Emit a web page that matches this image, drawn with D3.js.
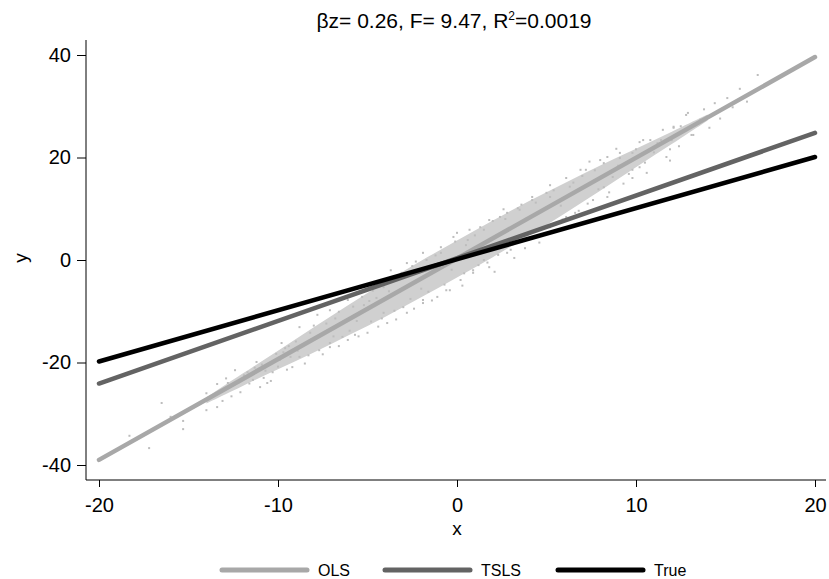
<!DOCTYPE html>
<html>
<head>
<meta charset="utf-8">
<script src="https://cdn.jsdelivr.net/npm/d3@7"></script>
<style>
  html, body { margin: 0; padding: 0; background: #fff; }
  svg { display: block; }
  text { font-family: "Liberation Sans", Arial, sans-serif; fill: #000; }
</style>
</head>
<body>
<svg id="chart" width="829" height="579"></svg>
<script>
// ---- data ----
const xTicks = [-20, -10, 0, 10, 20];
const yTicks = [-40, -20, 0, 20, 40];
const seriesNames = ["OLS", "TSLS", "True"];
const seriesColors = ["#a8a8a8", "#636363", "#000000"];
const lineX = [-20, 20];
const olsY = [-39.0, 39.6];
const tslsY = [-24.1, 24.8];
const trueY = [-19.8, 20.1];

// dense core of the scatter cloud (x, lower y, upper y)
const coreX  = [-14, -12, -10, -8, -6, -4, -2, 0, 2, 4, 6, 8, 10, 12, 14];
const coreLo = [-28.0, -24.6, -21.3, -18.1, -14.6, -11.1, -7.3, -3.4, 0.5, 4.7, 9.0, 13.5, 18.1, 22.6, 27.2];
const coreHi = [-26.8, -22.2, -17.7, -13.1, -8.6, -4.3, -0.1, 3.8, 7.7, 11.5, 15.0, 18.5, 21.7, 25.0, 28.4];

// individual scatter points
const pts = [
[-18.3,-34.3],[-17.2,-36.7],[-16.5,-27.9],[-16.0,-30.6],[-15.3,-31.4],[-15.3,-33.0],[-14.0,-26.0],[-14.0,-29.3],
[-13.4,-24.2],[-13.4,-28.7],[-12.4,-21.5],[-12.1,-25.8],[-11.7,-21.9],[-11.2,-19.9],[-10.8,-23.0],[-10.3,-21.9],
[-9.9,-19.5],[-9.6,-17.2],[-9.2,-20.9],[-10.6,-24.0],[-11.4,-23.4],[-9.8,-16.2],[-9.3,-18.9],[-8.2,-14.2],
[-7.7,-17.6],[-7.1,-16.2],[-6.4,-15.0],[-5.7,-14.6],[-12.9,-23.1],[-12.6,-26.6],[-11.9,-22.5],[-11.0,-24.8],
[-10.9,-20.4],[-10.1,-18.3],[-10.4,-23.6],[-9.5,-21.4],[-9.0,-15.9],[-8.8,-13.1],[-8.8,-18.9],[-8.5,-20.2],
[-8.0,-12.8],[-7.8,-10.7],[-7.5,-18.4],[-7.1,-9.8],[-7.1,-17.0],[-6.8,-11.4],[-6.6,-16.8],[-6.1,-7.8],
[-6.1,-15.6],[-5.8,-9.1],[-5.5,-14.9],[-5.3,-7.2],[-5.0,-14.2],[-4.7,-6.0],[-4.4,-13.0],[-4.1,-5.3],
[-4.1,-10.3],[-3.9,-12.3],[-3.7,-2.0],[-3.4,-11.6],[-3.2,-3.3],[-3.0,-9.2],[-2.8,-0.6],[-2.8,-10.3],
[-2.5,-1.2],[-2.4,-9.5],[-2.2,-2.0],[-1.9,1.4],[-1.9,-7.8],[-1.9,-8.4],[-1.7,0.0],[-1.4,-7.9],
[-1.1,-7.2],[-0.9,1.4],[-0.9,2.5],[-0.6,-5.9],[-0.4,-5.9],[-0.2,4.5],[0.0,5.3],[0.2,-3.9],
[0.3,-5.0],[0.6,3.9],[0.7,5.9],[0.9,-2.5],[0.9,-2.0],[1.3,6.4],[1.5,5.9],[1.5,0.0],
[1.8,7.8],[1.8,-1.4],[2.1,-2.3],[2.4,8.4],[2.6,9.9],[2.8,9.2],[2.8,1.4],[3.0,2.0],
[3.2,0.4],[3.4,10.1],[3.5,9.8],[3.8,2.3],[4.2,11.7],[4.2,12.3],[4.2,4.5],[4.6,3.4],
[5.0,13.1],[5.2,14.6],[5.2,6.4],[5.2,12.3],[5.6,5.8],[6.1,16.0],[6.1,8.4],[6.5,15.1],
[6.9,17.6],[6.8,9.6],[7.2,17.6],[7.6,11.7],[7.4,19.2],[8.0,19.5],[8.2,18.9],[8.2,14.2],
[8.4,20.1],[8.4,12.3],[8.7,16.2],[8.9,21.7],[9.1,20.9],[9.1,19.9],[9.3,14.9],[9.8,20.9],
[9.8,17.6],[9.8,16.0],[10.2,23.0],[10.2,18.1],[10.4,23.4],[10.6,17.0],[10.8,23.4],[11.2,22.8],
[11.5,25.4],[11.7,20.1],[11.9,19.4],[12.0,23.4],[12.1,25.8],[12.1,26.0],[12.4,22.2],[12.8,28.3],
[12.9,28.7],[13.1,24.4],[13.2,24.4],[13.5,26.7],[13.8,29.4],[14.1,25.8],[14.4,30.6],[15.1,31.6],
[15.8,33.4],[16.8,36.1],[14.7,27.6],[15.4,29.8],[16.2,30.9],[-8.9,-17.7],[-6.3,-12.2],[-3.6,-4.1],
[-2.0,-5.6],[-0.3,-1.9],[0.5,2.9],[2.2,3.1],[3.9,8.2],[5.8,10.6],[7.9,13.8],[-4.9,-8.0],
[-13.1,-27.5],[-12.8,-24.0],[-12.2,-23.9],[-11.6,-24.1],[-11.3,-21.0],[-10.7,-21.6],[-10.0,-20.8],[-9.7,-18.0],
[-9.4,-16.8],[-8.6,-16.5],[-8.3,-18.6],[-7.9,-15.4],[-7.3,-12.4],[-6.9,-14.9],[-6.6,-10.1],[-6.0,-13.8],
[-5.6,-11.9],[-5.2,-8.8],[-4.8,-12.0],[-4.5,-7.4],[-4.2,-11.4],[-3.8,-6.1],[-3.5,-9.9],[-3.1,-2.5],
[-2.6,-7.6],[-2.3,-0.3],[-1.6,-6.2],[-1.2,0.9],[-0.7,-4.8],[-0.1,3.6],[0.4,-2.6],[1.0,4.8],
[1.2,-1.0],[1.7,-0.5],[2.0,7.6],[2.3,1.0],[2.7,8.0],[3.1,3.0],[3.6,10.8],[4.0,3.9],
[4.4,11.2],[4.8,6.1],[5.4,13.6],[5.9,7.9],[6.3,14.3],[6.6,9.2],[7.0,16.4],[7.3,11.0],
[7.7,17.5],[8.5,13.2],[9.0,18.4],[9.6,16.8],[10.0,21.6],[10.5,19.0],[11.0,21.0],[11.4,23.4],
[11.9,21.6],[12.5,26.1],[13.0,25.9],[13.6,27.4]
];

// ---- layout ----
const svg = d3.select("#chart");
const x = d3.scaleLinear().domain([-20, 20]).range([99, 815]);
const y = d3.scaleLinear().domain([-40, 40]).range([465, 55]);
const axisLeftX = 86, axisBottomY = 480;
const fontFam = "Liberation Sans, Arial, sans-serif";

// scatter core
svg.append("path")
  .datum(coreX.map((v, i) => ({ x: v, lo: coreLo[i], hi: coreHi[i] })))
  .attr("fill", "#d0d0d0")
  .attr("d", d3.area().x(d => x(d.x)).y0(d => y(d.lo)).y1(d => y(d.hi)).curve(d3.curveBasis));

// scatter points
svg.append("g").selectAll("rect").data(pts).join("rect")
  .attr("x", d => x(d[0]) - 1)
  .attr("y", d => y(d[1]) - 1)
  .attr("width", 2).attr("height", 2)
  .attr("fill", "#bdbdbd");

// fit lines
const lineYs = [olsY, tslsY, trueY];
const line = d3.line().x(d => x(d[0])).y(d => y(d[1]));
lineYs.forEach((ys, i) => {
  svg.append("path")
    .datum(lineX.map((v, j) => [v, ys[j]]))
    .attr("fill", "none")
    .attr("stroke", seriesColors[i])
    .attr("stroke-width", 4.5)
    .attr("stroke-linecap", "round")
    .attr("d", line);
});

// axes
svg.append("line").attr("x1", axisLeftX).attr("x2", axisLeftX).attr("y1", 40).attr("y2", axisBottomY)
  .attr("stroke", "#000").attr("stroke-width", 1);
svg.append("line").attr("x1", axisLeftX).attr("x2", 826).attr("y1", axisBottomY).attr("y2", axisBottomY)
  .attr("stroke", "#000").attr("stroke-width", 1);

const gx = svg.append("g").attr("transform", `translate(0,${axisBottomY})`)
  .call(d3.axisBottom(x).tickValues(xTicks).tickSize(7).tickPadding(11).tickFormat(d => String(d)));
gx.select(".domain").remove();
gx.selectAll("text").style("font-size", "20px").style("font-family", fontFam);

const gy = svg.append("g").attr("transform", `translate(${axisLeftX},0)`)
  .call(d3.axisLeft(y).tickValues(yTicks).tickSize(9).tickPadding(6).tickFormat(d => String(d)));
gy.select(".domain").remove();
gy.selectAll("text").style("font-size", "20px").style("font-family", fontFam);

// axis titles
svg.append("text").attr("x", 457).attr("y", 535).attr("text-anchor", "middle")
  .style("font-size", "19px").text("x");
svg.append("text").attr("transform", "translate(27,258) rotate(-90)").attr("text-anchor", "middle")
  .style("font-size", "19px").text("y");

// title
const title = svg.append("text").attr("x", 454).attr("y", 28).attr("text-anchor", "middle")
  .style("font-size", "21px");
title.append("tspan").text("βz= 0.26, F= 9.47, R");
title.append("tspan").attr("dy", -8).style("font-size", "12px").text("2");
title.append("tspan").attr("dy", 8).text("=0.0019");

// legend
const legX = [222, 385, 558];
seriesNames.forEach((name, i) => {
  svg.append("line").attr("x1", legX[i]).attr("x2", legX[i] + 85)
    .attr("y1", 570).attr("y2", 570)
    .attr("stroke", seriesColors[i]).attr("stroke-width", 5).attr("stroke-linecap", "round");
  svg.append("text").attr("x", legX[i] + 96).attr("y", 576)
    .style("font-size", "16px").text(name);
});
</script>
</body>
</html>
